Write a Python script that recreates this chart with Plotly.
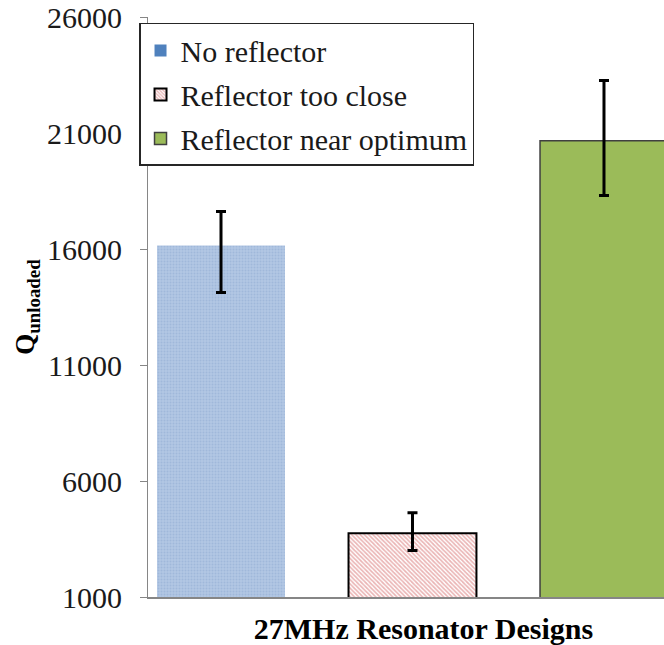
import plotly.graph_objects as go

# Unloaded Q of the 27 MHz resonator, three reflector configurations
category = ["27MHz Resonator Designs"]
series_names = ["No reflector", "Reflector too close", "Reflector near optimum"]
q_values = [16150, 3750, 20670]
err_plus = [1470, 885, 2590]
err_minus = [2030, 750, 2360]

y_ticks = [1000, 6000, 11000, 16000, 21000, 26000]

SERIF = "Liberation Serif"
AXIS_GRAY = "#868686"
TEXT_SIZE = 30

fig = go.Figure()

bar_styles = [
    dict(color="#a7bfdf",
         pattern=dict(shape=".", size=3, solidity=0.35, fgcolor="#8eaad2", bgcolor="#b2c7e3"),
         line=dict(width=0)),
    dict(color="#d66b6b",
         pattern=dict(shape="\\", size=3, solidity=0.55, fgcolor="#d66b6b", bgcolor="#ffffff"),
         line=dict(color="#000000", width=2)),
    dict(color="#9bbb59", line=dict(color="#404040", width=1.5)),
]
legend_styles = [
    dict(color="#4f81bd", line=dict(width=0)),
    bar_styles[1],
    bar_styles[2],
]

for i, name in enumerate(series_names):
    fig.add_trace(go.Bar(
        x=category, y=[q_values[i]], name=name,
        offsetgroup=str(i), showlegend=False,
        marker=bar_styles[i],
        error_y=dict(type="data", symmetric=False,
                     array=[err_plus[i]], arrayminus=[err_minus[i]],
                     color="#000000", thickness=3, width=5),
    ))
    # legend entry (no bar drawn)
    fig.add_trace(go.Bar(
        x=category, y=[None], name=name, offsetgroup=str(i),
        legendgroup=str(i), showlegend=True, marker=legend_styles[i],
    ))

fig.update_layout(
    width=664, height=645,
    margin=dict(l=148, r=0, t=16, b=44),
    paper_bgcolor="white", plot_bgcolor="white",
    barmode="group", bargap=0, bargroupgap=0.332,
    font=dict(family=SERIF, color="#1a1a1a", size=TEXT_SIZE),
    showlegend=True,
    legend=dict(
        x=-0.0174, y=0.9897, xanchor="left", yanchor="top",
        bgcolor="white", bordercolor="#262626", borderwidth=1.5,
        font=dict(family=SERIF, size=TEXT_SIZE, color="#1a1a1a"),
        tracegroupgap=2, traceorder="grouped",
    ),
)

fig.update_xaxes(
    type="category", range=[-0.4604, 0.4378],
    showline=True, linecolor=AXIS_GRAY, linewidth=2,
    ticks="", showgrid=False,
    tickfont=dict(family=SERIF, size=TEXT_SIZE, color="#000000", weight="bold"),
    ticklabelshift=11, ticklabelstandoff=4,
)

fig.update_yaxes(
    range=[1000, 26000], tickvals=y_ticks, ticktext=[str(v) for v in y_ticks],
    showline=True, linecolor=AXIS_GRAY, linewidth=1,
    ticks="outside", ticklen=7, tickcolor=AXIS_GRAY, tickwidth=1,
    showgrid=False, zeroline=False,
    tickfont=dict(family=SERIF, size=TEXT_SIZE, color="#1a1a1a"),
    ticklabelstandoff=12, ticklabeloverflow="allow",
    title=dict(text="<b>Q<sub>unloaded</sub></b>",
               font=dict(family=SERIF, size=27, color="#000000"), standoff=4),
)

fig.write_html("out.html")
